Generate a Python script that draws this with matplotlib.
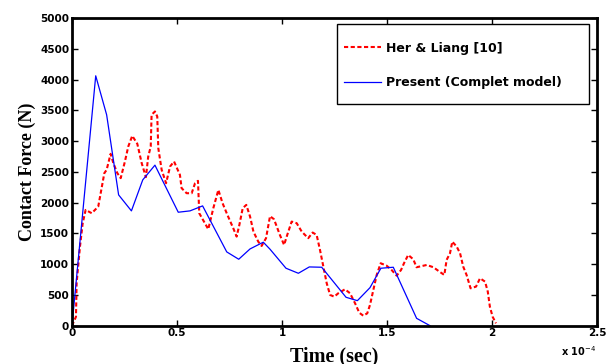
import numpy as np
import matplotlib.pyplot as plt
from matplotlib.patches import Rectangle

# Her & Liang [10] (time in 1e-4 s, force in N)
t_ref = [0, 0.019, 0.022, 0.038, 0.051, 0.065, 0.094, 0.125, 0.154, 0.165, 0.184, 0.197,
         0.216, 0.232, 0.252, 0.268, 0.287, 0.311, 0.332, 0.352, 0.363, 0.375, 0.379,
         0.395, 0.406, 0.411, 0.427, 0.448, 0.467, 0.486, 0.514, 0.522, 0.546, 0.570,
         0.586, 0.600, 0.606, 0.622, 0.649, 0.673, 0.697, 0.717, 0.740, 0.768, 0.784,
         0.797, 0.813, 0.830, 0.848, 0.864, 0.887, 0.903, 0.924, 0.943, 0.962, 0.990,
         1.010, 1.025, 1.046, 1.070, 1.094, 1.125, 1.146, 1.165, 1.181, 1.197, 1.213,
         1.229, 1.249, 1.268, 1.300, 1.324, 1.348, 1.368, 1.387, 1.406, 1.419, 1.435,
         1.451, 1.470, 1.498, 1.522, 1.546, 1.567, 1.581, 1.601, 1.625, 1.641, 1.689,
         1.721, 1.750, 1.773, 1.784, 1.800, 1.811, 1.832, 1.848, 1.863, 1.879, 1.898,
         1.924, 1.943, 1.967, 1.980, 1.990, 2.003, 2.019]
f_ref = [0, 146, 690, 1285, 1666, 1882, 1828, 1936, 2479, 2533, 2793, 2641,
         2479, 2398, 2668, 2912, 3086, 2956, 2641, 2414, 2749, 2912, 3427,
         3481, 3400, 2885, 2533, 2316, 2587, 2668, 2451, 2235, 2153, 2153,
         2316, 2354, 1828, 1731, 1568, 1910, 2207, 1991, 1801, 1584, 1448,
         1638, 1910, 1963, 1773, 1529, 1366, 1296, 1422, 1780, 1730, 1475,
         1313, 1475, 1692, 1666, 1529, 1422, 1514, 1475, 1231, 960, 690,
         500, 472, 527, 592, 527, 364, 211, 163, 201, 337, 581,
         825, 1015, 976, 906, 813, 906, 1015, 1150, 1080, 950, 987,
         950, 878, 825, 1069, 1177, 1366, 1285, 1177, 960, 825, 608,
         635, 771, 716, 553, 309, 146, 39]

# Present (Complet model)
t_pre = [0, 0.113, 0.165, 0.222, 0.283, 0.337, 0.395, 0.506, 0.562, 0.622, 0.737, 0.794,
         0.848, 0.911, 0.943, 1.019, 1.078, 1.130, 1.189, 1.305, 1.359, 1.419, 1.471,
         1.530, 1.641, 1.705]
f_pre = [0, 4061, 3427, 2126, 1866, 2370, 2609, 1844, 1866, 1947, 1199, 1080,
         1248, 1357, 1243, 934, 852, 955, 950, 462, 407, 618, 934,
         950, 120, 0]

fig = plt.figure(figsize=(6.07, 3.64), dpi=100)
ax = fig.add_axes([0.1186, 0.1052, 0.8649, 0.8453])

ax.plot(t_ref, f_ref, color='red', ls=(0, (2.0, 1.2)), lw=1.5, label='Her & Liang [10]')
ax.plot(t_pre, f_pre, 'b-', lw=0.9, label='Present (Complet model)')

ax.set_xlim(0, 2.5)
ax.set_ylim(0, 5000)
ax.set_xticks([0, 0.5, 1, 1.5, 2, 2.5])
ax.set_xticklabels(['0', '0.5', '1', '1.5', '2', '2.5'])
ax.set_yticks(np.arange(0, 5001, 500))
ax.tick_params(direction='in', top=True, right=True, length=4, width=1, labelsize=7.5, pad=2)
for lab in ax.get_xticklabels() + ax.get_yticklabels():
    lab.set_fontweight('bold')
for s in ax.spines.values():
    s.set_linewidth(2)

ax.set_xlabel('Time (sec)', family='Liberation Serif', fontweight='bold', fontsize=14.5)
ax.xaxis.set_label_coords(0.5, -0.068, transform=ax.transAxes)
ax.xaxis.label.set_va('top')
ax.set_ylabel('Contact Force (N)', family='Liberation Serif', fontweight='bold', fontsize=13, labelpad=3)
fig.text(0.925, 0.022, r'x 10$^{-4}$', fontsize=7, fontweight='bold')

# legend box is wider on the right than matplotlib's padding, so draw the frame by hand
ax.add_patch(Rectangle((0.5048, 0.7205), 0.48, 0.26, transform=ax.transAxes,
                       facecolor='white', edgecolor='black', lw=1, zorder=4))
leg = ax.legend(loc='center left', bbox_to_anchor=(0.518, 0.8456), frameon=False,
                prop={'weight': 'bold', 'size': 9}, handlelength=3.0, handletextpad=0.4,
                borderpad=0, labelspacing=1.75, borderaxespad=0.0)
leg.set_zorder(5)

plt.savefig('out.png', dpi=100)
